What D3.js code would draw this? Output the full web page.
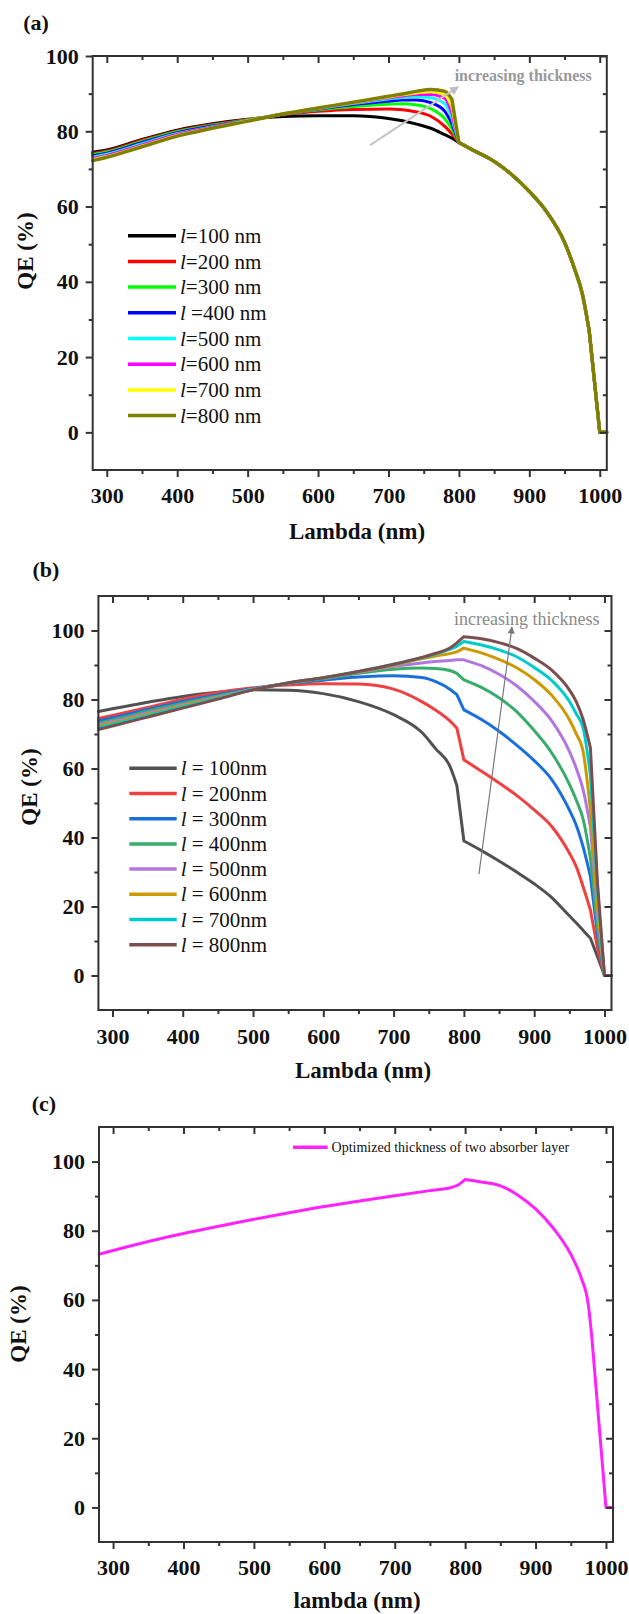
<!DOCTYPE html>
<html>
<head>
<meta charset="utf-8">
<script src="https://cdn.jsdelivr.net/npm/d3@7"></script>
<style>
  body { margin: 0; background: #fff; }
  svg text { font-family: "Liberation Serif", "Times New Roman", serif; }
</style>
</head>
<body>
<svg id="chart" width="629" height="1614"></svg>
<script>
// ---------- data ----------
// (a) wavelengths before the common tail, and the common tail after 800 nm
const lambdaA = [280, 300, 350, 400, 450, 500, 550, 600, 650, 700, 720, 740, 760, 780, 790];
const qeA100 = [74.4, 75.0, 77.8, 80.3, 82.0, 83.2, 83.9, 84.1, 84.1, 83.4, 82.8, 81.9, 80.8, 79.1, 78.2];
const qeA200 = [74.1, 74.8, 77.6, 80.1, 81.8, 83.1, 84.4, 85.3, 85.8, 85.9, 85.7, 85.1, 84.0, 81.3, 79.3];
const qeA300 = [73.8, 74.5, 77.3, 79.9, 81.6, 83.0, 84.5, 85.7, 86.6, 87.2, 87.3, 87.0, 86.0, 83.3, 80.6];
const qeA400 = [73.5, 74.2, 77.0, 79.6, 81.4, 82.9, 84.5, 85.9, 87.1, 88.0, 88.3, 88.3, 87.6, 85.3, 82.0];
const qeA500 = [73.1, 73.9, 76.7, 79.4, 81.2, 82.9, 84.6, 86.0, 87.4, 88.6, 89.0, 89.2, 88.9, 87.3, 83.5];
const qeA600 = [72.8, 73.6, 76.4, 79.2, 81.1, 82.8, 84.6, 86.1, 87.5, 88.9, 89.4, 89.8, 89.8, 88.7, 84.8];
const qeA700 = [72.5, 73.3, 76.1, 78.9, 80.9, 82.8, 84.6, 86.2, 87.6, 89.1, 89.7, 90.2, 90.5, 89.7, 86.5];
const qeA800 = [72.2, 73.1, 75.9, 78.7, 80.8, 82.7, 84.6, 86.2, 87.7, 89.3, 89.9, 90.6, 91.1, 90.6, 88.5];
const lambdaTailA = [800, 820, 850, 875, 900, 925, 950, 965, 975, 985, 1000, 1010];
const qeTailA = [77.0, 75.0, 72.0, 68.5, 64.0, 58.5, 50.5, 43.0, 37.0, 27.0, 0, 0];
const labelsA = ["=100 nm", "=200 nm", "=300 nm", " =400 nm", "=500 nm", "=600 nm", "=700 nm", "=800 nm"];
const colorsA = ["#000000", "#ff0000", "#00ff00", "#0000ff", "#00ffff", "#ff00ff", "#ffff00", "#808000"];

// (b)
const lambdaB = [280, 300, 350, 400, 450, 500, 550, 600, 650, 700, 740, 760, 780, 790, 800,
                 825, 850, 875, 900, 925, 950, 960, 970, 980, 990, 1000, 1010];
const qeB100 = [76.5, 77.3, 79.2, 80.9, 82.1, 82.8, 82.7, 81.7, 79.4, 75.6, 70.5, 65.7, 60.7, 55.1, 39.0,
                36.2, 33.2, 30.0, 26.6, 22.6, 17.3, 15.2, 13.0, 10.8, 5.5, 0, 0];
const qeB200 = [74.5, 75.4, 77.7, 80.1, 82.0, 83.4, 84.2, 84.6, 84.5, 83.0, 79.4, 76.9, 73.8, 71.7, 62.5,
                59.2, 55.8, 52.2, 48.0, 43.2, 35.5, 31.5, 25.5, 19.0, 8.0, 0, 0];
const qeB300 = [73.8, 74.7, 77.1, 79.4, 81.4, 83.1, 84.6, 85.6, 86.5, 86.9, 86.4, 85.2, 83.0, 81.4, 77.0,
                74.2, 70.8, 66.8, 62.3, 56.8, 48.0, 43.5, 37.0, 28.7, 12.0, 0, 0];
const qeB400 = [73.2, 74.1, 76.6, 78.9, 81.0, 83.0, 84.7, 86.0, 87.6, 88.8, 89.1, 89.0, 88.4, 87.6, 85.7,
                83.5, 80.5, 76.5, 71.0, 64.5, 55.5, 50.8, 45.0, 34.0, 14.0, 0, 0];
const qeB500 = [72.7, 73.6, 76.1, 78.5, 80.7, 83.0, 84.8, 86.2, 87.9, 89.6, 90.6, 91.0, 91.3, 91.5, 91.5,
                89.8, 87.3, 84.0, 79.5, 73.8, 65.0, 60.0, 53.5, 43.0, 18.0, 0, 0];
const qeB600 = [72.3, 73.2, 75.7, 78.2, 80.5, 82.9, 84.8, 86.3, 88.0, 90.0, 91.8, 92.6, 93.3, 93.8, 94.9,
                93.5, 91.6, 89.2, 85.8, 81.2, 74.2, 70.0, 64.5, 48.0, 20.0, 0, 0];
const qeB700 = [71.9, 72.8, 75.3, 77.9, 80.3, 82.9, 84.8, 86.3, 88.1, 90.2, 92.1, 93.2, 94.5, 95.4, 96.8,
                95.8, 94.4, 92.4, 89.3, 85.5, 79.5, 75.8, 71.5, 58.0, 25.0, 0, 0];
const qeB800 = [71.3, 72.3, 74.9, 77.5, 80.1, 82.8, 84.8, 86.3, 88.1, 90.2, 92.2, 93.4, 94.9, 96.4, 98.2,
                97.6, 96.5, 94.8, 92.0, 88.5, 82.8, 79.3, 74.0, 66.0, 27.0, 0, 0];
const labelsB = [" = 100nm", " = 200nm", " = 300nm", " = 400nm", " = 500nm", " = 600nm", " = 700nm", " = 800nm"];
const colorsB = ["#515151", "#f14040", "#1a6fdf", "#37ad6b", "#b177de", "#cc9900", "#00cbcc", "#7d4e4e"];

// (c)
const lambdaC = [280, 300, 350, 400, 450, 500, 550, 600, 650, 700, 750, 780, 790, 800,
                 825, 850, 875, 900, 925, 950, 965, 975, 980, 1000, 1010];
const qeC = [73.2, 74.3, 76.9, 79.2, 81.3, 83.3, 85.2, 87.0, 88.6, 90.1, 91.6, 92.5, 93.2, 94.8,
             94.0, 93.0, 90.3, 86.3, 80.8, 73.2, 66.3, 58.5, 49.0, 0, 0];

const xMajor = [300, 400, 500, 600, 700, 800, 900, 1000];
const xMinor = [350, 450, 550, 650, 750, 850, 950];
const yMajor = [0, 20, 40, 60, 80, 100];
const yMinor = [10, 30, 50, 70, 90];

// ---------- drawing ----------
const svg = d3.select('#chart');
svg.append('rect').attr('width', 629).attr('height', 1614).attr('fill', '#fff');
const defs = svg.append('defs');

function marker(id, color, w) {
  defs.append('marker')
    .attr('id', id)
    .attr('viewBox', '0 0 10 10')
    .attr('refX', 9).attr('refY', 5)
    .attr('markerUnits', 'userSpaceOnUse')
    .attr('markerWidth', w).attr('markerHeight', w * 0.8)
    .attr('orient', 'auto')
    .append('path').attr('d', 'M0,0 L10,5 L0,10 z').attr('fill', color);
}
marker('arrA', '#bdbdbd', 11);
marker('arrB', '#7a7a7a', 9);

// smooth runs use monotone curves, the steep drops stay straight
function pathFor(points, sharp, x, y) {
  const gen = (pts, sh) => d3.line().x(d => x(d[0])).y(d => y(d[1]))
    .curve(sh ? d3.curveLinear : d3.curveMonotoneX)(pts);
  const isSharp = (a, b) => sharp.some(([s, e]) => a >= s && b <= e);
  let d = '';
  let run = [points[0]], runSharp = null;
  for (let i = 1; i < points.length; i++) {
    const sh = isSharp(points[i - 1][0], points[i][0]);
    if (runSharp === null || sh === runSharp) {
      run.push(points[i]);
      runSharp = sh;
    } else {
      d += gen(run, runSharp);
      run = [points[i - 1], points[i]];
      runSharp = sh;
    }
  }
  return d + gen(run, runSharp);
}

function drawPanel(p) {
  const g = svg.append('g');
  const x = d3.scaleLinear().domain([280, 1010]).range([p.left, p.right]);
  const y = d3.scaleLinear().domain([-10, p.yMax]).range([p.bottom, p.top]);

  // curves
  p.series.forEach(s => {
    g.append('path')
      .attr('d', pathFor(s.points, p.sharp, x, y))
      .attr('fill', 'none')
      .attr('stroke', s.color)
      .attr('stroke-width', s.width || 3)
      .attr('stroke-linejoin', 'round')
      .attr('stroke-linecap', 'round');
  });

  // axes, major + minor, mirrored on top/right
  const axes = [
    [d3.axisBottom(x).tickValues(xMajor).tickSize(7).tickPadding(p.xPad).tickFormat(d3.format('d')), `translate(0,${p.bottom})`, true],
    [d3.axisBottom(x).tickValues(xMinor).tickSize(4).tickFormat(''), `translate(0,${p.bottom})`, false],
    [d3.axisBottom(x).tickValues(xMajor).tickSize(7).tickFormat(''), `translate(0,${p.top})`, false],
    [d3.axisBottom(x).tickValues(xMinor).tickSize(4).tickFormat(''), `translate(0,${p.top})`, false],
    [d3.axisLeft(y).tickValues(yMajor).tickSize(7).tickPadding(7).tickFormat(d3.format('d')), `translate(${p.left},0)`, true],
    [d3.axisLeft(y).tickValues(yMinor).tickSize(4).tickFormat(''), `translate(${p.left},0)`, false],
    [d3.axisLeft(y).tickValues(yMajor).tickSize(7).tickFormat(''), `translate(${p.right},0)`, false],
    [d3.axisLeft(y).tickValues(yMinor).tickSize(4).tickFormat(''), `translate(${p.right},0)`, false]
  ];
  axes.forEach(([ax, tr, labels]) => {
    const a = g.append('g').attr('transform', tr).call(ax);
    a.select('.domain').remove();
    a.selectAll('line').attr('stroke', '#333').attr('stroke-width', 2);
    if (labels) {
      a.selectAll('text')
        .attr('font-size', 22)
        .attr('font-weight', 'bold')
        .attr('fill', '#111');
    }
  });

  // frame
  g.append('rect')
    .attr('x', p.left).attr('y', p.top)
    .attr('width', p.right - p.left).attr('height', p.bottom - p.top)
    .attr('fill', 'none').attr('stroke', '#333').attr('stroke-width', 2);

  // titles
  g.append('text')
    .attr('x', p.xTitle[0]).attr('y', p.xTitle[1])
    .attr('text-anchor', 'middle')
    .attr('font-size', 23).attr('font-weight', 'bold').attr('fill', '#111')
    .text(p.xLabel);
  g.append('text')
    .attr('transform', `translate(${p.yTitle[0]},${p.yTitle[1]}) rotate(-90)`)
    .attr('text-anchor', 'middle')
    .attr('font-size', 23).attr('font-weight', 'bold').attr('fill', '#111')
    .text('QE (%)');
  g.append('text')
    .attr('x', p.tag[0]).attr('y', p.tag[1])
    .attr('text-anchor', 'middle')
    .attr('font-size', 22).attr('font-weight', 'bold').attr('fill', '#111')
    .text(p.tagText);

  return { g, x, y };
}

function legend(g, items, x0, y0, step, len, fontSize) {
  items.forEach((it, i) => {
    const yy = y0 + i * step;
    g.append('line')
      .attr('x1', x0).attr('x2', x0 + len).attr('y1', yy).attr('y2', yy)
      .attr('stroke', it.color).attr('stroke-width', 3.5);
    const t = g.append('text')
      .attr('x', x0 + len + 4).attr('y', yy + fontSize * 0.34)
      .attr('font-size', fontSize).attr('fill', '#111');
    if (it.italic) {
      t.append('tspan').attr('font-style', 'italic').text('l');
    }
    t.append('tspan').text(it.text);
  });
}

// ----- panel (a) -----
const seriesA = [qeA100, qeA200, qeA300, qeA400, qeA500, qeA600, qeA700, qeA800].map((vals, i) => ({
  color: colorsA[i],
  width: i === 7 ? 3.5 : 3,
  points: lambdaA.map((l, j) => [l, vals[j]]).concat(lambdaTailA.map((l, j) => [l, qeTailA[j]]))
}));
const pa = drawPanel({
  left: 92.7, right: 606.8, top: 56, bottom: 470, yMax: 100, xPad: 10,
  sharp: [[790, 800], [985, 1010]],
  series: seriesA, xLabel: 'Lambda (nm)', xTitle: [357, 539], yTitle: [33, 251],
  tag: [36, 30], tagText: '(a)'
});
legend(pa.g, colorsA.map((c, i) => ({ color: c, text: labelsA[i], italic: true })), 128, 235.7, 25.7, 48, 21);
pa.g.append('line')
  .attr('x1', pa.x(674)).attr('y1', pa.y(76.3))
  .attr('x2', pa.x(799)).attr('y2', pa.y(91.8))
  .attr('stroke', '#c4c4c4').attr('stroke-width', 2)
  .attr('marker-end', 'url(#arrA)');
pa.g.append('text')
  .attr('x', pa.x(794)).attr('y', pa.y(93.4))
  .attr('font-size', 16).attr('font-weight', 'bold').attr('fill', '#999')
  .text('increasing thickness');

// ----- panel (b) -----
const seriesB = [qeB100, qeB200, qeB300, qeB400, qeB500, qeB600, qeB700, qeB800].map((vals, i) => ({
  color: colorsB[i],
  points: lambdaB.map((l, j) => [l, vals[j]])
}));
const pb = drawPanel({
  left: 98.4, right: 611.5, top: 596, bottom: 1010, yMax: 110, xPad: 11,
  sharp: [[790, 800], [980, 1010]],
  series: seriesB, xLabel: 'Lambda (nm)', xTitle: [363, 1078], yTitle: [37, 787],
  tag: [46, 577], tagText: '(b)'
});
legend(pb.g, colorsB.map((c, i) => ({ color: c, text: labelsB[i], italic: true })), 129.3, 768.3, 25.2, 47.4, 21);
pb.g.append('line')
  .attr('x1', pb.x(821.4)).attr('y1', pb.y(29.4))
  .attr('x2', pb.x(868.4)).attr('y2', pb.y(101))
  .attr('stroke', '#7a7a7a').attr('stroke-width', 1.2)
  .attr('marker-end', 'url(#arrB)');
pb.g.append('text')
  .attr('x', pb.x(786)).attr('y', pb.y(101.7))
  .attr('font-size', 18).attr('fill', '#8a8a8a')
  .text('increasing thickness');

// ----- panel (c) -----
const pc = drawPanel({
  left: 99, right: 613, top: 1127, bottom: 1542, yMax: 110, xPad: 10,
  sharp: [[790, 800], [980, 1010]],
  series: [{ color: '#ff22ff', points: lambdaC.map((l, j) => [l, qeC[j]]) }],
  xLabel: 'lambda (nm)', xTitle: [357, 1608], yTitle: [26, 1324],
  tag: [44, 1111], tagText: '(c)'
});
legend(pc.g, [{ color: '#ff22ff', text: 'Optimized thickness of two absorber layer', italic: false }], 293, 1147.3, 0, 34.6, 14);
</script>
</body>
</html>
